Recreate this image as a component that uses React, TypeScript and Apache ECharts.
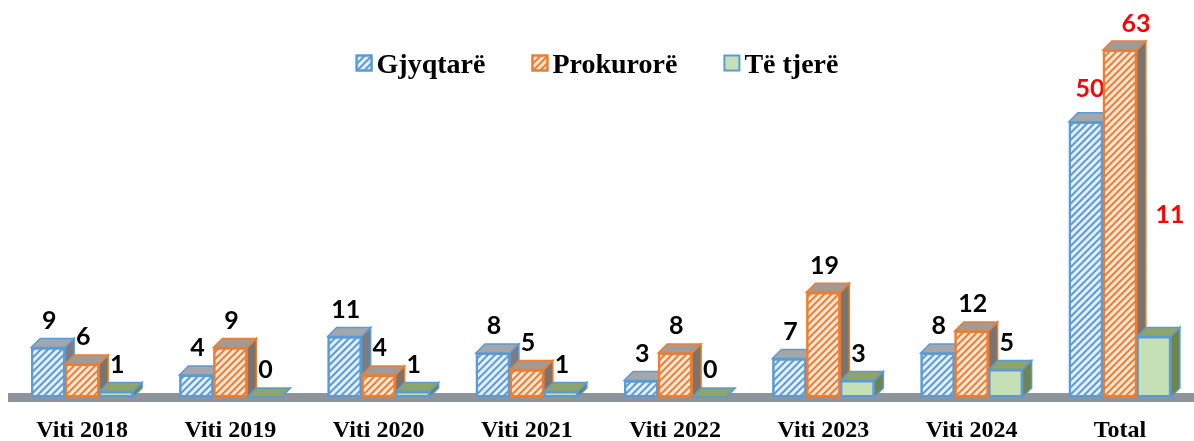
import React, { useEffect, useRef } from "react";
import * as echarts from "echarts";

const categories = ["Viti 2018", "Viti 2019", "Viti 2020", "Viti 2021", "Viti 2022", "Viti 2023", "Viti 2024", "Total"];
const gjyqtare = [9, 4, 11, 8, 3, 7, 8, 50];
const prokurore = [6, 9, 4, 5, 8, 19, 12, 63];
const teTjere = [1, 0, 1, 1, 0, 3, 5, 11];
const seriesNames = ["Gjyqtarë", "Prokurorë", "Të tjerë"];

const BAR_W = 34;
const DX = 9;
const DY = 9;

function make3D(name: string, idx: number, values: number[], topColor: string, sideColor: string, border: string, z: number) {
  return {
    type: "custom",
    name: name + " 3d",
    z,
    silent: true,
    data: values.map((v, i) => [i, v]),
    encode: { x: 0, y: 1 },
    renderItem: (params: any, api: any) => {
      const cat = api.value(0);
      const val = api.value(1);
      const top = api.coord([cat, val]);
      const base = api.coord([cat, 0]);
      const left = top[0] + (idx - 1) * BAR_W - BAR_W / 2;
      const right = left + BAR_W;
      const yT = top[1];
      const yB = base[1];
      return {
        type: "group",
        children: [
          {
            type: "polygon",
            shape: { points: [[right, yT], [right + DX, yT - DY], [right + DX, yB - DY], [right, yB]] },
            style: { fill: sideColor, stroke: border, lineWidth: 1.5 },
          },
          {
            type: "polygon",
            shape: { points: [[left, yT], [right, yT], [right + DX, yT - DY], [left + DX, yT - DY]] },
            style: { fill: topColor, stroke: border, lineWidth: 1.5 },
          },
        ],
      };
    },
  };
}

export default function App() {
  const ref = useRef<HTMLDivElement>(null);
  useEffect(() => {
    const chart = echarts.init(ref.current!, null, { renderer: "svg" });
    const last = categories.length - 1;
    const labelCfg = {
      show: true,
      position: "top",
      distance: 4,
      offset: [1, -DY - 3],
      fontFamily: "Lato",
      fontWeight: "bold",
      fontSize: 25,
      color: "#000",
    };
    // label shifts for the Total group (labels sit off the bars in the original)
    const totalShift = [[3, -6], [15, 0], [15, -95]];
    const mkData = (arr: number[], s: number) =>
      arr.map((v, i) =>
        i === last
          ? { value: v, label: { color: "#ff0000", offset: [1 + totalShift[s][0], -DY - 3 + totalShift[s][1]] } }
          : v
      );
    const stripe = (c: string) => ({
      symbol: "rect",
      color: c,
      dashArrayX: [1, 0],
      dashArrayY: [1.5, 2.5],
      rotation: -Math.PI / 4,
      symbolSize: 1,
    });
    chart.setOption({
      animation: false,
      legend: {
        top: 44,
        left: "center",
        itemGap: 46,
        itemWidth: 15,
        itemHeight: 15,
        icon: "rect",
        data: seriesNames,
        textStyle: { fontFamily: "Liberation Serif", fontWeight: "bold", fontSize: 28, color: "#000" },
      },
      grid: { left: 8, right: 0, top: 22.5, bottom: 44 },
      xAxis: {
        type: "category",
        data: categories,
        axisTick: { show: false },
        axisLine: { show: true, lineStyle: { color: "#8d949c", width: 9, cap: "butt" } },
        axisLabel: {
          margin: 20,
          fontFamily: "Liberation Serif",
          fontWeight: "bold",
          fontSize: 24,
          color: "#000",
        },
      },
      yAxis: { type: "value", min: 0, max: 68, show: false, splitLine: { show: false } },
      series: [
        {
          type: "bar",
          name: seriesNames[0],
          z: 2,
          barWidth: BAR_W,
          barGap: "0%",
          data: mkData(gjyqtare, 0),
          itemStyle: { color: "#e3eef9", borderColor: "#5b9bd5", borderWidth: 2, decal: stripe("#5b9bd5") },
          label: labelCfg,
        },
        make3D(seriesNames[0], 0, gjyqtare, "#a3a6ab", "#7a7e84", "#5b9bd5", 3),
        {
          type: "bar",
          name: seriesNames[1],
          z: 4,
          barWidth: BAR_W,
          barGap: "0%",
          data: mkData(prokurore, 1),
          itemStyle: { color: "#fde6d6", borderColor: "#ed7d31", borderWidth: 2, decal: stripe("#ed7d31") },
          label: labelCfg,
        },
        make3D(seriesNames[1], 1, prokurore, "#a39a93", "#7b746e", "#ed7d31", 5),
        {
          type: "bar",
          name: seriesNames[2],
          z: 6,
          barWidth: BAR_W,
          barGap: "0%",
          data: mkData(teTjere, 2),
          itemStyle: { color: "#c5e0b4", borderColor: "#5b9bd5", borderWidth: 2 },
          label: labelCfg,
        },
        make3D(seriesNames[2], 2, teTjere, "#8fa46a", "#6f8450", "#5b9bd5", 7),
      ],
    });
    return () => chart.dispose();
  }, []);
  return <div ref={ref} style={{ position: "fixed", left: 0, top: 0, width: 1194, height: 441 }} />;
}
